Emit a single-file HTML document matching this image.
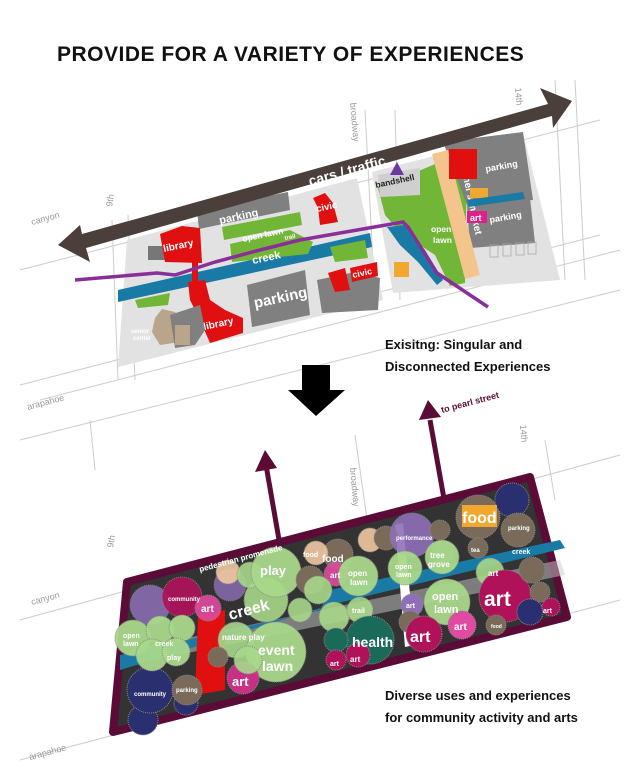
<!DOCTYPE html>
<html><head><meta charset="utf-8"><style>
html,body{margin:0;padding:0;background:#fff;}
svg{display:block;font-family:"Liberation Sans",sans-serif;}
.w{fill:#fff;font-weight:bold;}
</style></head><body>
<svg width="640" height="777" viewBox="0 0 640 777" xmlns="http://www.w3.org/2000/svg">
<text x="57" y="61" font-size="21" font-weight="bold" fill="#111" letter-spacing="0.5">PROVIDE FOR A VARIETY OF EXPERIENCES</text>

<g stroke="#ccc" fill="none" stroke-width="1">
<path d="M20 270 L600 120"/><path d="M20 385 L600 235"/><path d="M40 400 L620 250"/>
<path d="M112 220 L118 380"/><path d="M128 215 L135 380"/><path d="M365 110 L375 300"/><path d="M395 110 L400 300"/><path d="M555 80 L565 280"/><path d="M575 80 L585 280"/>
<path d="M20 440 L620 290"/><path d="M90 420 L95 470"/>
</g>
<text x="28" y="410" font-size="9" fill="#999" transform="rotate(-15 28 410)">arapahoe</text>
<text x="32" y="225" font-size="9" fill="#999" transform="rotate(-15 32 225)">canyon</text>
<text x="112" y="207" font-size="9" fill="#999" transform="rotate(-80 112 207)">9th</text>
<text x="350" y="103" font-size="9" fill="#999" transform="rotate(85 350 103)">broadway</text>
<text x="515" y="88" font-size="9" fill="#999" transform="rotate(85 515 88)">14th</text>

<polygon points="127,240 357,178 383,300 118,367" fill="#e2e2e2"/>
<polygon points="372,172 523,133 560,280 393,293" fill="#e2e2e2"/>
<polygon points="118,290 370,233 372,247 118,302" fill="#1a7aa6"/>
<polygon points="330,247 365,240 368,258 335,262" fill="#72b637"/>
<polygon points="135,300 170,293 168,305 138,308" fill="#72b637"/>
<polygon points="197,210 288,192 290,210 199,229" fill="#808080"/>
<text x="220" y="224" font-size="11" class="w" transform="rotate(-12 220 224)">parking</text>
<polygon points="222,227 300,212 302,225 224,240" fill="#72b637"/>
<polygon points="230,244 290,230 313,242 308,254 232,262" fill="#72b637"/>
<text x="243" y="242" font-size="8.5" class="w" transform="rotate(-12 243 242)">open lawn</text>
<text x="253" y="264" font-size="11" class="w" transform="rotate(-12 253 264)">creek</text>
<text x="285" y="240" font-size="6" class="w" transform="rotate(-12 285 240)">trail</text>
<rect x="148" y="246" width="18" height="14" fill="#777"/>
<polygon points="160,234 182,226 200,228 202,263 165,262" fill="#e01010"/>
<text x="164" y="252" font-size="10" class="w" transform="rotate(-12 164 252)">library</text>
<rect x="192" y="262" width="6" height="20" fill="#e01010"/>
<polygon points="188,282 205,280 210,300 225,310 243,318 243,333 210,343 200,320 190,300" fill="#e01010"/>
<text x="204" y="330" font-size="10" class="w" transform="rotate(-12 204 330)">library</text>
<polygon points="155,318 162,309 175,312 185,325 180,342 160,345 152,332" fill="#b8a58c"/>
<text x="131" y="333" font-size="6" class="w">senior</text><text x="133" y="340" font-size="6" class="w">center</text>
<polygon points="170,315 200,305 205,330 195,345 175,348" fill="#808080"/>
<rect x="175" y="325" width="15" height="20" fill="#b8a58c"/>
<polygon points="247,285 305,270 310,315 252,327" fill="#808080"/>
<text x="255" y="308" font-size="15" class="w" transform="rotate(-12 255 308)">parking</text>
<polygon points="313,198 325,193 333,203 338,222 320,225 318,208" fill="#e01010"/>
<text x="317" y="212" font-size="9.5" class="w" transform="rotate(-12 317 212)">civic</text>
<polygon points="317,280 355,272 380,278 378,310 322,313" fill="#808080"/>
<polygon points="328,273 345,268 350,290 335,292" fill="#e01010"/>
<polygon points="350,268 377,262 378,276 352,282" fill="#e01010"/>
<text x="353" y="278" font-size="9" class="w" transform="rotate(-12 353 278)">civic</text>
<polygon points="378,188 440,162 467,162 465,283 450,286 435,255 400,232 385,215" fill="#72b637"/>
<polygon points="378,175 420,168 420,195 380,197" fill="#cfcfcf"/>
<text x="376" y="188" font-size="8.5" font-weight="bold" fill="#222" transform="rotate(-12 376 188)">bandshell</text>
<polygon points="390,175 397,162 404,175" fill="#6c3a9e"/>
<polygon points="443,142 523,132 533,200 467,205" fill="#808080"/>
<polygon points="467,205 530,198 535,243 470,248" fill="#808080"/>
<polygon points="432,154 448,150 480,275 465,279" fill="#f3c48c"/>
<text x="460" y="162" font-size="10" class="w" transform="rotate(78 460 162)">farmer's market</text>
<rect x="449" y="149" width="28" height="30" fill="#e01010"/>
<text x="486" y="172" font-size="9" class="w" transform="rotate(-10 486 172)">parking</text>
<rect x="470" y="188" width="18" height="10" fill="#f0a830"/>
<polygon points="467,200 523,192 525,199 469,207" fill="#1a7aa6"/>
<rect x="467" y="211" width="20" height="12" fill="#e0208a"/>
<text x="470" y="221" font-size="9" class="w">art</text>
<text x="490" y="223" font-size="9" class="w" transform="rotate(-10 490 223)">parking</text>
<g fill="none" stroke="#aaa" stroke-width="0.8">
<rect x="490" y="245" width="8" height="12"/><rect x="503" y="244" width="8" height="12"/><rect x="516" y="243" width="8" height="12"/><rect x="528" y="242" width="8" height="12"/>
</g>
<text x="431" y="232" font-size="8.5" class="w">open</text><text x="433" y="243" font-size="8.5" class="w">lawn</text>
<polygon points="387,227 405,225 425,250 443,280 437,285 418,262 400,245" fill="#1a7aa6"/>
<rect x="394" y="262" width="15" height="15" fill="#f0a830"/>
<polyline points="75,280 157,273 175,275 215,262 260,250 300,240 340,233 403,222 408,227 437,273 488,307" fill="none" stroke="#8a2f9a" stroke-width="3.5"/>
<polygon points="58,245 80,225 82,234 548,104 540,88 572,101 553,128 552,116 86,248 90,262" fill="#4a3f3a"/>
<text x="310" y="186" font-size="14" class="w" transform="rotate(-15.5 310 186)">cars / traffic</text>

<text x="385" y="349" font-size="13" font-weight="bold" fill="#111">Exisitng: Singular and</text>
<text x="385" y="371" font-size="13" font-weight="bold" fill="#111">Disconnected Experiences</text>

<polygon points="302,365 330,365 330,390 345,390 316,416 288,390 302,390" fill="#000"/>

<g stroke="#ccc" fill="none">
<path d="M20 620 L620 455"/><path d="M20 760 L620 600"/><path d="M355 435 L370 540"/><path d="M545 440 L555 500"/>
</g>
<text x="30" y="760" font-size="9" fill="#999" transform="rotate(-15 30 760)">arapahoe</text>
<text x="32" y="605" font-size="9" fill="#999" transform="rotate(-15 32 605)">canyon</text>
<text x="113" y="548" font-size="9" fill="#999" transform="rotate(-80 113 548)">9th</text>
<text x="350" y="468" font-size="9" fill="#999" transform="rotate(85 350 468)">broadway</text>
<text x="520" y="425" font-size="9" fill="#999" transform="rotate(85 520 425)">14th</text>

<g stroke="#5a0c36" stroke-width="5" fill="#5a0c36">
<line x1="286" y1="580" x2="266" y2="465"/><line x1="446" y1="510" x2="430" y2="420"/>
</g>
<polygon points="255,472 265,450 277,468" fill="#5a0c36"/>
<polygon points="419,420 428,400 441,417" fill="#5a0c36"/>
<text x="442" y="413" font-size="9" font-weight="bold" fill="#5a0c36" transform="rotate(-15 442 413)">to pearl street</text>

<polygon points="127,582 530,477 567,617 113,732" fill="#333" stroke="#5a0c36" stroke-width="8" stroke-linejoin="round"/>
<polygon points="130,650 560,560 565,575 130,665" fill="#c8c8c8" opacity="0.5"/>
<polygon points="120,655 320,610 330,590 560,540 565,548 330,605 120,670" fill="#1a7aa6"/>
<polygon points="395,525 403,523 415,645 405,647" fill="#fff"/>
<polygon points="198,615 225,610 225,690 195,695" fill="#e01010"/>
<g stroke="#8a8a8a" stroke-dasharray="1,1" stroke-width="1">
<circle cx="150" cy="605" r="20" fill="#8f6fb8" opacity="0.85"/>
<circle cx="182" cy="597" r="20" fill="#b0125a" opacity="0.9"/>
<circle cx="230" cy="585" r="16" fill="#8f6fb8" opacity="0.8"/>
<circle cx="143" cy="720" r="15" fill="#2a2f70"/>
<circle cx="150" cy="690" r="23" fill="#2a2f70"/>
<circle cx="186" cy="703" r="12" fill="#2a2f70"/>
<circle cx="187" cy="690" r="15" fill="#7a6a5a"/>
<circle cx="133" cy="638" r="18" fill="#a8d88a" opacity="0.95"/>
<circle cx="160" cy="630" r="14" fill="#a8d88a" opacity="0.95"/>
<circle cx="182" cy="628" r="13" fill="#a8d88a" opacity="0.95"/>
<circle cx="152" cy="655" r="16" fill="#a8d88a" opacity="0.95"/>
<circle cx="176" cy="652" r="14" fill="#a8d88a" opacity="0.95"/>
<circle cx="208" cy="608" r="13" fill="#e04aa0" opacity="0.9"/>
<circle cx="266" cy="600" r="22" fill="#a8d88a" opacity="0.9"/>
<circle cx="228" cy="572" r="12" fill="#f0c8a0" opacity="0.9"/>
<circle cx="250" cy="575" r="13" fill="#a8d88a" opacity="0.9"/>
<circle cx="276" cy="572" r="25" fill="#a8d88a" opacity="0.95"/>
<circle cx="236" cy="640" r="18" fill="#a8d88a" opacity="0.9"/>
<circle cx="276" cy="652" r="30" fill="#a8d88a" opacity="0.95"/>
<circle cx="243" cy="678" r="16" fill="#d0308a" opacity="0.95"/>
<circle cx="218" cy="657" r="10" fill="#7a6a5a"/>
<circle cx="248" cy="660" r="14" fill="#a8d88a" opacity="0.9"/>
<circle cx="300" cy="610" r="12" fill="#a8d88a" opacity="0.9"/>
<circle cx="310" cy="580" r="14" fill="#7a6a5a"/>
<circle cx="338" cy="554" r="15" fill="#7a6a5a"/>
<circle cx="316" cy="553" r="12" fill="#f0c8a0" opacity="0.9"/>
<circle cx="336" cy="574" r="12" fill="#e04aa0" opacity="0.9"/>
<circle cx="358" cy="576" r="20" fill="#a8d88a" opacity="0.95"/>
<circle cx="318" cy="590" r="14" fill="#a8d88a" opacity="0.9"/>
<circle cx="334" cy="617" r="15" fill="#a8d88a" opacity="0.9"/>
<circle cx="360" cy="610" r="13" fill="#a8d88a" opacity="0.9"/>
<circle cx="370" cy="640" r="24" fill="#1a6a5a"/>
<circle cx="336" cy="640" r="12" fill="#1a6a5a"/>
<circle cx="336" cy="660" r="10" fill="#b0125a"/>
<circle cx="358" cy="655" r="12" fill="#b0125a"/>
<circle cx="370" cy="540" r="12" fill="#f0c8a0" opacity="0.9"/>
<circle cx="386" cy="538" r="12" fill="#7a6a5a"/>
<circle cx="412" cy="535" r="22" fill="#8f6fb8" opacity="0.9"/>
<circle cx="440" cy="530" r="10" fill="#7a6a5a"/>
<circle cx="443" cy="552" r="11" fill="#7a6a5a"/>
<circle cx="405" cy="568" r="17" fill="#a8d88a" opacity="0.95"/>
<circle cx="442" cy="557" r="17" fill="#a8d88a" opacity="0.95"/>
<circle cx="447" cy="602" r="23" fill="#a8d88a" opacity="0.95"/>
<circle cx="412" cy="605" r="11" fill="#8f6fb8"/>
<circle cx="410" cy="622" r="11" fill="#7a6a5a"/>
<circle cx="424" cy="634" r="18" fill="#b0125a"/>
<circle cx="462" cy="625" r="14" fill="#e04aa0"/>
<circle cx="478" cy="517" r="22" fill="#7a6a5a"/>
<circle cx="512" cy="500" r="17" fill="#2a2f70"/>
<circle cx="518" cy="530" r="17" fill="#7a6a5a"/>
<circle cx="478" cy="548" r="10" fill="#7a6a5a"/>
<circle cx="490" cy="572" r="14" fill="#a8d88a" opacity="0.9"/>
<circle cx="505" cy="596" r="26" fill="#b0125a"/>
<circle cx="532" cy="570" r="13" fill="#7a6a5a"/>
<circle cx="540" cy="592" r="10" fill="#7a6a5a"/>
<circle cx="530" cy="612" r="13" fill="#2a2f70"/>
<circle cx="551" cy="607" r="9" fill="#b0125a"/>
<circle cx="496" cy="625" r="10" fill="#7a6a5a"/>
</g>
<rect x="462" y="505" width="35" height="22" fill="#f0a830"/>
<g class="w">
<text x="200" y="572" font-size="8" transform="rotate(-15 200 572)">pedestrian promenade</text>
<text x="168" y="601" font-size="6">community</text>
<text x="201" y="612" font-size="10">art</text>
<text x="260" y="575" font-size="13">play</text>
<text x="230" y="620" font-size="16" transform="rotate(-15 230 620)">creek</text>
<text x="222" y="640" font-size="8">nature play</text>
<text x="258" y="655" font-size="14">event</text>
<text x="262" y="671" font-size="14">lawn</text>
<text x="232" y="686" font-size="13">art</text>
<text x="123" y="638" font-size="7">open</text><text x="123" y="646" font-size="7">lawn</text>
<text x="155" y="646" font-size="7">creek</text>
<text x="167" y="660" font-size="7">play</text>
<text x="134" y="696" font-size="6">community</text>
<text x="176" y="692" font-size="6">parking</text>
<text x="322" y="562" font-size="10">food</text>
<text x="303" y="557" font-size="7">food</text>
<text x="330" y="578" font-size="8">art</text>
<text x="348" y="576" font-size="8">open</text><text x="350" y="585" font-size="8">lawn</text>
<text x="352" y="613" font-size="7">trail</text>
<text x="352" y="647" font-size="14">health</text>
<text x="330" y="666" font-size="7">art</text>
<text x="350" y="662" font-size="8">art</text>
<text x="396" y="540" font-size="6">performance</text>
<text x="395" y="569" font-size="7">open</text><text x="396" y="577" font-size="7">lawn</text>
<text x="430" y="558" font-size="8">tree</text><text x="428" y="567" font-size="8">grove</text>
<text x="432" y="600" font-size="11">open</text><text x="434" y="613" font-size="11">lawn</text>
<text x="410" y="642" font-size="16">art</text>
<text x="454" y="630" font-size="10">art</text>
<text x="406" y="608" font-size="7">art</text>
<text x="462" y="523" font-size="16">food</text>
<text x="471" y="552" font-size="6">tea</text>
<text x="508" y="530" font-size="6">parking</text>
<text x="512" y="554" font-size="7">creek</text>
<text x="488" y="576" font-size="8">art</text>
<text x="484" y="606" font-size="21">art</text>
<text x="543" y="613" font-size="7">art</text>
<text x="491" y="628" font-size="5">food</text>
</g>

<text x="385" y="700" font-size="13" font-weight="bold" fill="#111">Diverse uses and experiences</text>
<text x="385" y="722" font-size="13" font-weight="bold" fill="#111">for community activity and arts</text>
</svg>
</body></html>
